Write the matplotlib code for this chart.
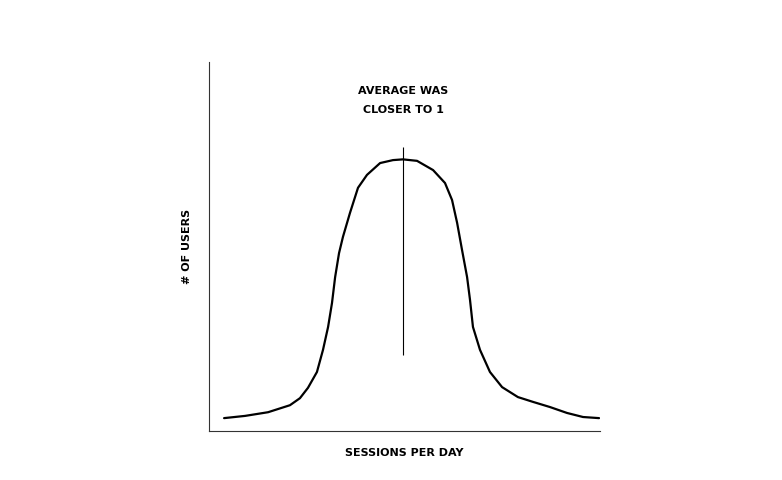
import matplotlib.pyplot as plt

# sessions per day (x) vs number of users (y)
sessions = [0.077, 0.184, 0.302, 0.414, 0.465, 0.506, 0.552, 0.583, 0.609,
            0.629, 0.645, 0.665, 0.685, 0.721, 0.762, 0.808, 0.875, 0.941,
            0.992, 1.064, 1.146, 1.207, 1.243, 1.269, 1.294, 1.320, 1.335,
            1.350, 1.386, 1.437, 1.499, 1.580, 1.657, 1.744, 1.831, 1.913,
            1.995]
users = [3.5, 4.1, 5.1, 7.0, 8.9, 11.7, 16.0, 22.0, 28.2,
         34.7, 41.7, 48.2, 52.6, 59.1, 65.9, 69.4, 72.6, 73.4,
         73.6, 73.2, 70.7, 67.2, 62.6, 56.4, 49.1, 41.7, 35.5,
         28.2, 22.0, 16.0, 11.9, 9.2, 7.9, 6.5, 4.9, 3.8,
         3.5]

avg_x = 0.992
avg_span = (20.6, 77.0)
avg_note = "AVERAGE WAS\n\nCLOSER TO 1"
x_label = "SESSIONS PER DAY"
y_label = "# OF USERS"

fig = plt.figure(figsize=(7.82, 4.8), dpi=100)
ax = fig.add_axes([0.2673, 0.102, 0.5, 0.769])

ax.plot(sessions, users, color="black", linewidth=1.6,
        solid_capstyle="round", solid_joinstyle="round")
ax.vlines(avg_x, avg_span[0], avg_span[1], color="black", linewidth=0.8)

ax.text(avg_x, 89.5, avg_note, ha="center", va="center", fontsize=8,
        fontweight="bold", linespacing=0.9)

ax.set_xlim(0, 2)
ax.set_ylim(0, 100)
ax.set_xticks([])
ax.set_yticks([])
for side in ("top", "right"):
    ax.spines[side].set_visible(False)
for side in ("left", "bottom"):
    ax.spines[side].set_color("#333333")
    ax.spines[side].set_linewidth(0.8)

ax.set_xlabel(x_label, fontsize=8, fontweight="bold", labelpad=12)
ax.set_ylabel(y_label, fontsize=8, fontweight="bold", labelpad=12)

fig.savefig("out.png", dpi=100)
